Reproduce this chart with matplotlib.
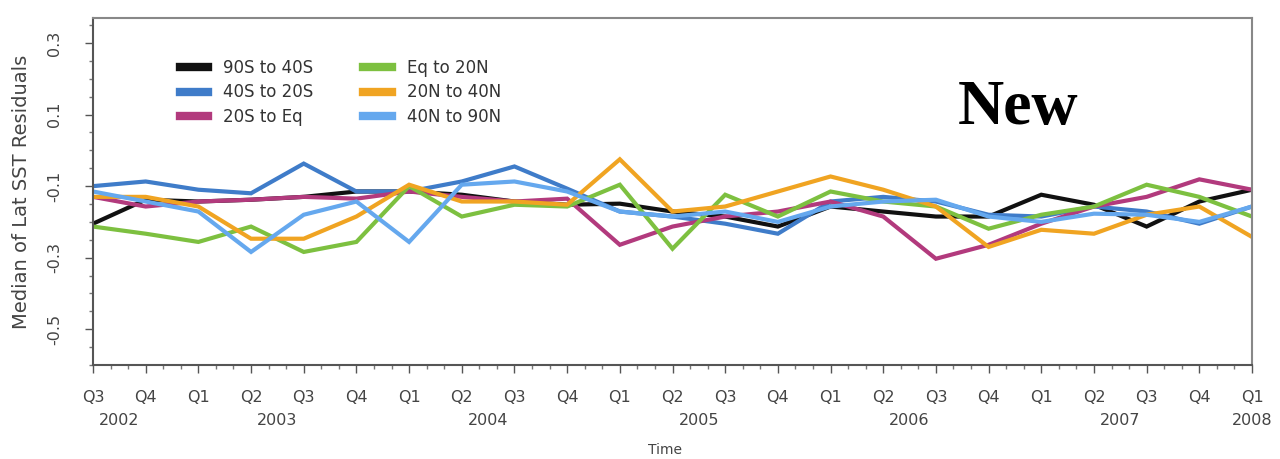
import numpy as np
import matplotlib.pyplot as plt

# quarters from Q3 2002 to Q1 2008
quarters = ['Q3', 'Q4', 'Q1', 'Q2', 'Q3', 'Q4', 'Q1', 'Q2', 'Q3', 'Q4', 'Q1', 'Q2',
            'Q3', 'Q4', 'Q1', 'Q2', 'Q3', 'Q4', 'Q1', 'Q2', 'Q3', 'Q4', 'Q1']
years = ['2002', '2003', '2004', '2005', '2006', '2007', '2008']
year_pos = [0.5, 3.5, 7.5, 11.5, 15.5, 19.5, 22]

s90s_40s = [-0.205, -0.138, -0.143, -0.138, -0.130, -0.115, -0.115, -0.124, -0.143, -0.152, -0.149, -0.171,
            -0.185, -0.213, -0.157, -0.171, -0.185, -0.185, -0.124, -0.152, -0.213, -0.143, -0.110]
s40s_20s = [-0.100, -0.087, -0.110, -0.120, -0.037, -0.115, -0.115, -0.087, -0.045, -0.107, -0.171, -0.185,
            -0.205, -0.233, -0.143, -0.130, -0.143, -0.180, -0.185, -0.157, -0.171, -0.205, -0.157]
s20s_eq = [-0.130, -0.157, -0.143, -0.138, -0.130, -0.135, -0.115, -0.130, -0.143, -0.135, -0.264, -0.213,
           -0.185, -0.171, -0.143, -0.185, -0.303, -0.264, -0.205, -0.157, -0.130, -0.081, -0.110]
seq_20n = [-0.213, -0.233, -0.256, -0.213, -0.284, -0.256, -0.100, -0.185, -0.152, -0.157, -0.096, -0.275,
           -0.124, -0.185, -0.115, -0.143, -0.157, -0.219, -0.180, -0.157, -0.096, -0.130, -0.185]
s20n_40n = [-0.130, -0.130, -0.157, -0.247, -0.247, -0.185, -0.096, -0.143, -0.143, -0.152, -0.025, -0.171,
            -0.157, -0.115, -0.073, -0.110, -0.157, -0.270, -0.222, -0.233, -0.180, -0.157, -0.242]
s40n_90n = [-0.115, -0.143, -0.171, -0.284, -0.180, -0.143, -0.256, -0.096, -0.087, -0.115, -0.171, -0.185,
            -0.171, -0.200, -0.157, -0.143, -0.138, -0.185, -0.200, -0.177, -0.180, -0.200, -0.157]

labels = ['90S to 40S', '40S to 20S', '20S to Eq', 'Eq to 20N', '20N to 40N', '40N to 90N']
colors = ['#111111', '#3f7cc9', '#b23a7d', '#7dc040', '#f0a422', '#65a8ee']
series = [s90s_40s, s40s_20s, s20s_eq, seq_20n, s20n_40n, s40n_90n]

fig = plt.figure(figsize=(12.8, 4.59), dpi=100)
ax = fig.add_axes([93 / 1280, 94 / 459, 1159 / 1280, 347 / 459])

x = np.arange(len(quarters))
for vals, c, lab in zip(series, colors, labels):
    ax.plot(x, vals, color=c, lw=3, label=lab, solid_joinstyle='miter')

ax.set_xlim(0, len(quarters) - 1)
ax.set_ylim(-0.6, 0.37)

ax.set_xticks(x)
ax.set_xticklabels(quarters, fontsize=11.5, color='#444444')
ax.set_xticks(np.arange(0, len(quarters) - 1 + 1e-9, 1 / 3), minor=True)
ax.set_yticks([0.3, 0.1, -0.1, -0.3, -0.5])
ax.set_yticklabels(['0.3', '0.1', '-0.1', '-0.3', '-0.5'], fontsize=11.5, color='#444444',
                   rotation=90, va='center')
ax.set_yticks(np.arange(-0.6, 0.36, 0.05), minor=True)
ax.tick_params(axis='both', which='major', length=6, width=1, color='#555555')
ax.tick_params(axis='both', which='minor', length=3, width=1, color='#777777')
ax.tick_params(axis='x', pad=12)
ax.tick_params(axis='y', pad=16)

for side in ['left', 'bottom']:
    ax.spines[side].set_color('#555555')
    ax.spines[side].set_linewidth(1.5)
for side in ['top', 'right']:
    ax.spines[side].set_color('#888888')
    ax.spines[side].set_linewidth(1.5)

for yr, p in zip(years, year_pos):
    ax.text(p, -0.16, yr, transform=ax.get_xaxis_transform(), ha='center', va='center',
            fontsize=11.5, color='#444444')

fig.text(665 / 1280, 1 - 450 / 459, 'Time', ha='center', va='center', fontsize=10, color='#444444')
fig.text(22 / 1280, 1 - 192 / 459, 'Median of Lat SST Residuals', rotation=90, ha='center',
         va='center', fontsize=14, color='#444444')

leg = ax.legend(loc='upper left', bbox_to_anchor=(0.062, 0.925), ncol=2, frameon=False,
                fontsize=12, handlelength=1.7, handletextpad=0.9, columnspacing=3.0,
                labelspacing=0.38)
for h in leg.get_lines():
    h.set_linewidth(6)
for t in leg.get_texts():
    t.set_color('#333333')

ax.text(0.798, 0.695, 'New', transform=ax.transAxes, ha='center', va='baseline',
        fontsize=46, fontweight='bold', family='Liberation Serif', color='black')

fig.savefig('out.png', dpi=100)
